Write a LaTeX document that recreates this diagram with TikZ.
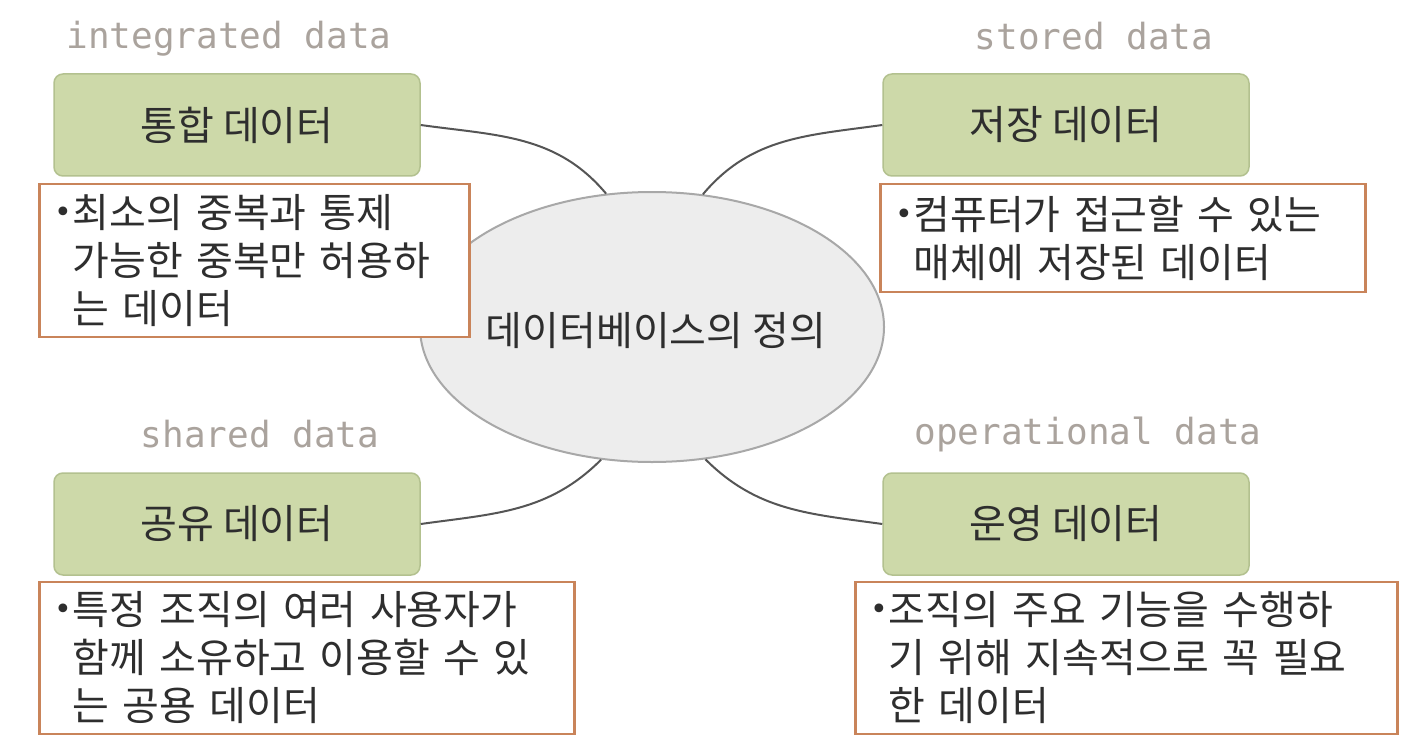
\documentclass[tikz,border=0pt]{standalone}
\usepackage{fontspec}
\setmainfont{Noto Sans CJK KR}
\newfontfamily\tagfont{DejaVu Sans Mono}
\newfontfamily\dotfont{DejaVu Sans}
\usetikzlibrary{positioning,shapes.geometric}

\definecolor{topicfill}{HTML}{CDD9A9}
\definecolor{topicline}{HTML}{B3C18F}
\definecolor{noteline}{HTML}{C9845A}
\definecolor{dbfill}{HTML}{EDEDED}
\definecolor{dbline}{HTML}{A8A8A8}
\definecolor{tagtext}{HTML}{AAA39D}
\definecolor{inktext}{HTML}{2E2E2E}
\definecolor{linkline}{HTML}{555555}

\newcommand\notedot{\makebox[20pt][l]{\hspace*{2pt}\raisebox{5pt}{\dotfont\fontsize{30}{30}\selectfont •}}}
\newcommand\notegap{\hspace*{20pt}}

\begin{document}
\begin{tikzpicture}[
    x=1pt, y=-1pt,
    topic/.style={draw=topicline, fill=topicfill, line width=1.5pt, rounded corners=9pt,
        minimum width=366pt, minimum height=102pt, text=inktext, font=\fontsize{40}{48}\selectfont},
    note/.style={draw=noteline, fill=white, line width=2.5pt, inner xsep=13pt, inner ysep=0pt,
        align=left, text=inktext, font=\fontsize{40}{48}\selectfont},
    tag/.style={text=tagtext, font=\tagfont\fontsize{36}{40}\selectfont},
    link/.style={draw=linkline, line width=2pt}
]
\fill[white] (0,0) rectangle (1420,754);
\useasboundingbox (0,0) rectangle (1420,754);

% centre
\node[ellipse, draw=dbline, fill=dbfill, line width=2pt, minimum width=464pt,
    minimum height=270pt, inner sep=0pt] (db) at (652,327) {};
\node[text=inktext, font=\fontsize{40}{44}\selectfont] (dbtext) at ([xshift=4pt,yshift=-4pt]db.center) {데이터베이스의 정의};

% four kinds of data
\node[topic] (integrated) at (237,125) {통합 데이터};
\node[topic] (stored) at (1066,125) {저장 데이터};
\node[topic] (shared) at (237,524) {공유 데이터};
\node[topic] (operational) at (1066,524) {운영 데이터};

\node[tag, above=25pt of integrated.north, anchor=base, xshift=-8pt] (integratedtag) {integrated data};
\node[tag, above=24pt of stored.north, anchor=base, xshift=28pt] (storedtag) {stored data};
\node[tag, above=25pt of shared.north, anchor=base, xshift=23pt] (sharedtag) {shared data};
\node[tag, above=28pt of operational.north, anchor=base, xshift=22pt] (operationaltag) {operational data};

\node[note, below=6pt of integrated.south west, anchor=north west, xshift=-15pt,
    text width=404pt, minimum height=153pt] (integratednote)
    {\notedot 최소의 중복과 통제\\\notegap 가능한 중복만 허용하\\\notegap 는 데이터};
\node[note, below=6pt of stored.south west, anchor=north west, xshift=-3pt,
    text width=459pt, minimum height=108pt] (storednote)
    {\notedot 컴퓨터가 접근할 수 있는\\\notegap 매체에 저장된 데이터};
\node[note, below=5pt of shared.south west, anchor=north west, xshift=-15pt,
    text width=509pt, minimum height=152pt] (sharednote)
    {\notedot 특정 조직의 여러 사용자가\\\notegap 함께 소유하고 이용할 수 있\\\notegap 는 공용 데이터};
\node[note, below=5pt of operational.south west, anchor=north west, xshift=-28pt,
    text width=516pt, minimum height=152pt] (operationalnote)
    {\notedot 조직의 주요 기능을 수행하\\\notegap 기 위해 지속적으로 꼭 필요\\\notegap 한 데이터};

% links to the centre
\draw[link] (integrated.east) to[out=-8, in=130] (db.109);
\draw[link] (stored.west) to[out=188, in=50] (db.69);
\draw[link] (shared.east) to[out=8, in=-135] (db.249);
\draw[link] (operational.west) to[out=172, in=-45] (db.292);

\end{tikzpicture}
\end{document}
